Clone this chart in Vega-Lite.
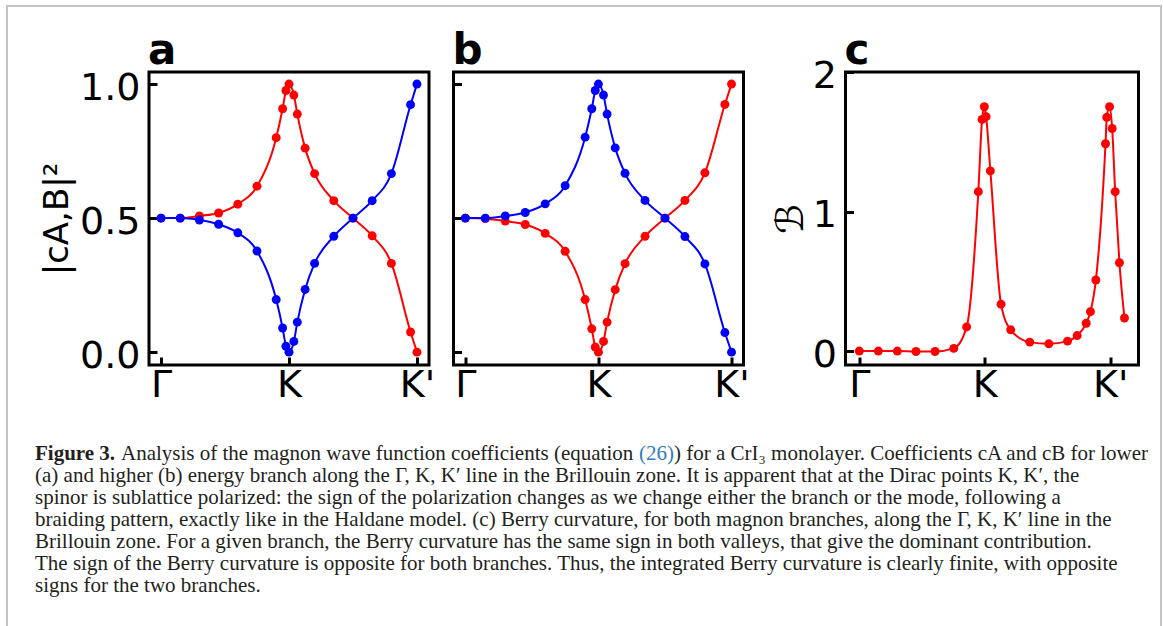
{
  "$schema": "https://vega.github.io/schema/vega-lite/v6.json",
  "padding": {"left": 4, "top": 3, "right": 0, "bottom": 0},
  "background": "white",
  "bounds": "flush",
  "spacing": 24.5,
  "config": {
    "view": {"stroke": "black", "strokeWidth": 3},
    "axis": {
      "domain": false, "grid": false, "labelOverlap": false, "labelFlush": false,
      "labelFont": "DejaVu Sans", "labelFontSize": 38, "labelColor": "black", "labelFontWeight": "normal",
      "tickColor": "black", "tickWidth": 3, "tickSize": -8,
      "titleFont": "DejaVu Sans", "titleColor": "black", "titleFontWeight": "normal"
    },
    "axisX": {"labelPadding": 9, "title": null},
    "axisY": {"labelPadding": 17, "labelOffset": 4}
  },
  "datasets": {
    "coef": [
      {"branch": "lower", "coefficient": "A", "k": 0, "w": 0.5},
      {"branch": "lower", "coefficient": "A", "k": 0.15, "w": 0.5},
      {"branch": "lower", "coefficient": "A", "k": 0.3, "w": 0.508},
      {"branch": "lower", "coefficient": "A", "k": 0.45, "w": 0.519},
      {"branch": "lower", "coefficient": "A", "k": 0.6, "w": 0.552},
      {"branch": "lower", "coefficient": "A", "k": 0.75, "w": 0.619},
      {"branch": "lower", "coefficient": "A", "k": 0.9, "w": 0.8},
      {"branch": "lower", "coefficient": "A", "k": 0.95, "w": 0.908},
      {"branch": "lower", "coefficient": "A", "k": 0.976, "w": 0.976},
      {"branch": "lower", "coefficient": "A", "k": 1.0, "w": 1.0},
      {"branch": "lower", "coefficient": "A", "k": 1.038, "w": 0.959},
      {"branch": "lower", "coefficient": "A", "k": 1.065, "w": 0.888},
      {"branch": "lower", "coefficient": "A", "k": 1.126, "w": 0.761},
      {"branch": "lower", "coefficient": "A", "k": 1.2, "w": 0.666},
      {"branch": "lower", "coefficient": "A", "k": 1.35, "w": 0.565},
      {"branch": "lower", "coefficient": "A", "k": 1.5, "w": 0.5},
      {"branch": "lower", "coefficient": "A", "k": 1.65, "w": 0.434},
      {"branch": "lower", "coefficient": "A", "k": 1.8, "w": 0.331},
      {"branch": "lower", "coefficient": "A", "k": 1.95, "w": 0.075},
      {"branch": "lower", "coefficient": "A", "k": 2.0, "w": 0.0},
      {"branch": "lower", "coefficient": "B", "k": 0, "w": 0.5},
      {"branch": "lower", "coefficient": "B", "k": 0.15, "w": 0.5},
      {"branch": "lower", "coefficient": "B", "k": 0.3, "w": 0.493},
      {"branch": "lower", "coefficient": "B", "k": 0.45, "w": 0.477},
      {"branch": "lower", "coefficient": "B", "k": 0.6, "w": 0.445},
      {"branch": "lower", "coefficient": "B", "k": 0.75, "w": 0.377},
      {"branch": "lower", "coefficient": "B", "k": 0.9, "w": 0.196},
      {"branch": "lower", "coefficient": "B", "k": 0.95, "w": 0.09},
      {"branch": "lower", "coefficient": "B", "k": 0.976, "w": 0.022},
      {"branch": "lower", "coefficient": "B", "k": 1.0, "w": 0.0},
      {"branch": "lower", "coefficient": "B", "k": 1.038, "w": 0.04},
      {"branch": "lower", "coefficient": "B", "k": 1.065, "w": 0.112},
      {"branch": "lower", "coefficient": "B", "k": 1.126, "w": 0.234},
      {"branch": "lower", "coefficient": "B", "k": 1.2, "w": 0.331},
      {"branch": "lower", "coefficient": "B", "k": 1.35, "w": 0.432},
      {"branch": "lower", "coefficient": "B", "k": 1.5, "w": 0.5},
      {"branch": "lower", "coefficient": "B", "k": 1.65, "w": 0.565},
      {"branch": "lower", "coefficient": "B", "k": 1.8, "w": 0.666},
      {"branch": "lower", "coefficient": "B", "k": 1.95, "w": 0.923},
      {"branch": "lower", "coefficient": "B", "k": 2.0, "w": 1.0},
      {"branch": "higher", "coefficient": "A", "k": 0, "w": 0.5},
      {"branch": "higher", "coefficient": "A", "k": 0.15, "w": 0.498},
      {"branch": "higher", "coefficient": "A", "k": 0.3, "w": 0.489},
      {"branch": "higher", "coefficient": "A", "k": 0.45, "w": 0.476},
      {"branch": "higher", "coefficient": "A", "k": 0.6, "w": 0.443},
      {"branch": "higher", "coefficient": "A", "k": 0.75, "w": 0.376},
      {"branch": "higher", "coefficient": "A", "k": 0.9, "w": 0.196},
      {"branch": "higher", "coefficient": "A", "k": 0.95, "w": 0.087},
      {"branch": "higher", "coefficient": "A", "k": 0.976, "w": 0.019},
      {"branch": "higher", "coefficient": "A", "k": 1.0, "w": 0.0},
      {"branch": "higher", "coefficient": "A", "k": 1.038, "w": 0.04},
      {"branch": "higher", "coefficient": "A", "k": 1.065, "w": 0.112},
      {"branch": "higher", "coefficient": "A", "k": 1.126, "w": 0.233},
      {"branch": "higher", "coefficient": "A", "k": 1.2, "w": 0.33},
      {"branch": "higher", "coefficient": "A", "k": 1.35, "w": 0.432},
      {"branch": "higher", "coefficient": "A", "k": 1.5, "w": 0.5},
      {"branch": "higher", "coefficient": "A", "k": 1.65, "w": 0.566},
      {"branch": "higher", "coefficient": "A", "k": 1.8, "w": 0.669},
      {"branch": "higher", "coefficient": "A", "k": 1.95, "w": 0.924},
      {"branch": "higher", "coefficient": "A", "k": 2.0, "w": 1.0},
      {"branch": "higher", "coefficient": "B", "k": 0, "w": 0.5},
      {"branch": "higher", "coefficient": "B", "k": 0.15, "w": 0.5},
      {"branch": "higher", "coefficient": "B", "k": 0.3, "w": 0.508},
      {"branch": "higher", "coefficient": "B", "k": 0.45, "w": 0.521},
      {"branch": "higher", "coefficient": "B", "k": 0.6, "w": 0.553},
      {"branch": "higher", "coefficient": "B", "k": 0.75, "w": 0.621},
      {"branch": "higher", "coefficient": "B", "k": 0.9, "w": 0.802},
      {"branch": "higher", "coefficient": "B", "k": 0.95, "w": 0.908},
      {"branch": "higher", "coefficient": "B", "k": 0.976, "w": 0.976},
      {"branch": "higher", "coefficient": "B", "k": 1.0, "w": 1.0},
      {"branch": "higher", "coefficient": "B", "k": 1.038, "w": 0.959},
      {"branch": "higher", "coefficient": "B", "k": 1.065, "w": 0.888},
      {"branch": "higher", "coefficient": "B", "k": 1.126, "w": 0.762},
      {"branch": "higher", "coefficient": "B", "k": 1.2, "w": 0.667},
      {"branch": "higher", "coefficient": "B", "k": 1.35, "w": 0.566},
      {"branch": "higher", "coefficient": "B", "k": 1.5, "w": 0.5},
      {"branch": "higher", "coefficient": "B", "k": 1.65, "w": 0.431},
      {"branch": "higher", "coefficient": "B", "k": 1.8, "w": 0.329},
      {"branch": "higher", "coefficient": "B", "k": 1.95, "w": 0.073},
      {"branch": "higher", "coefficient": "B", "k": 2.0, "w": 0.0}
    ],
    "berry": [
      {"k": 0, "curv": 0},
      {"k": 0.152, "curv": 0},
      {"k": 0.303, "curv": 0},
      {"k": 0.452, "curv": -0.003},
      {"k": 0.604, "curv": -0.003},
      {"k": 0.753, "curv": 0.019},
      {"k": 0.856, "curv": 0.173},
      {"k": 0.949, "curv": 1.142},
      {"k": 0.979, "curv": 1.66},
      {"k": 0.997, "curv": 1.751},
      {"k": 1.011, "curv": 1.68},
      {"k": 1.045, "curv": 1.291},
      {"k": 1.13, "curv": 0.336},
      {"k": 1.207, "curv": 0.152},
      {"k": 1.359, "curv": 0.064},
      {"k": 1.511, "curv": 0.052},
      {"k": 1.66, "curv": 0.071},
      {"k": 1.737, "curv": 0.111},
      {"k": 1.809, "curv": 0.199},
      {"k": 1.843, "curv": 0.282},
      {"k": 1.886, "curv": 0.509},
      {"k": 1.963, "curv": 1.486},
      {"k": 1.973, "curv": 1.675},
      {"k": 1.995, "curv": 1.751},
      {"k": 2.016, "curv": 1.595},
      {"k": 2.04, "curv": 1.142},
      {"k": 2.074, "curv": 0.633},
      {"k": 2.114, "curv": 0.237}
    ],
    "caption": [
      {"line": 1, "part": "lead", "text": "Figure 3."},
      {"line": 1, "part": "head", "text": "Analysis of the magnon wave function coefficients (equation"},
      {"line": 1, "part": "ref", "text": "(26)"},
      {"line": 1, "part": "tail", "text": ") for a CrI₃ monolayer. Coefficients cA and cB for lower"},
      {"line": 2, "part": "body", "text": "(a) and higher (b) energy branch along the Γ, K, K′ line in the Brillouin zone. It is apparent that at the Dirac points K, K′, the"},
      {"line": 3, "part": "body", "text": "spinor is sublattice polarized: the sign of the polarization changes as we change either the branch or the mode, following a"},
      {"line": 4, "part": "body", "text": "braiding pattern, exactly like in the Haldane model. (c) Berry curvature, for both magnon branches, along the Γ, K, K′ line in the"},
      {"line": 5, "part": "body", "text": "Brillouin zone. For a given branch, the Berry curvature has the same sign in both valleys, that give the dominant contribution."},
      {"line": 6, "part": "body", "text": "The sign of the Berry curvature is opposite for both branches. Thus, the integrated Berry curvature is clearly finite, with opposite"},
      {"line": 7, "part": "body", "text": "signs for the two branches."}
    ]
  },
  "hconcat": [
    {
      "width": 280, "height": 293,
      "resolve": {"scale": {"x": "independent", "y": "independent"}},
      "layer": [
        {
          "data": {"name": "coef"},
          "transform": [{"filter": "datum.branch === 'lower'"}],
          "encoding": {
            "x": {"field": "k", "type": "quantitative", "scale": {"domain": [-0.094, 2.094], "nice": false, "zero": false},
                  "axis": {"values": [0, 1, 2], "labelExpr": "datum.value < 0.5 ? 'Γ' : datum.value < 1.5 ? 'K' : \"K'\""}},
            "y": {"field": "w", "type": "quantitative", "scale": {"domain": [-0.048, 1.045], "nice": false, "zero": false},
                  "axis": {"values": [0, 0.5, 1], "format": ".1f", "title": "|cA,B|²", "titleFontSize": 34, "titlePadding": 5}},
            "color": {"field": "coefficient", "type": "nominal", "scale": {"domain": ["A", "B"], "range": ["#ff0000", "#0000ff"]}, "legend": null}
          },
          "layer": [
            {"mark": {"type": "line", "interpolate": "monotone", "strokeWidth": 2}},
            {"mark": {"type": "point", "filled": true, "size": 80, "opacity": 1, "strokeWidth": 0}}
          ]
        },
        {
          "layer": [
            {
              "data": {"values": [{"frame": "figure"}]},
              "mark": {"type": "rect", "fill": "transparent", "stroke": "#c4c4c4", "strokeWidth": 2},
              "encoding": {
                "x": {"datum": -0.14032, "type": "quantitative", "scale": {"domain": [0, 0.27668], "nice": false, "zero": false}, "axis": null},
                "x2": {"datum": 1},
                "y": {"datum": -19.636, "type": "quantitative", "scale": {"domain": [-16.636, -3.318], "nice": false, "zero": false, "reverse": true}, "axis": null},
                "y2": {"datum": 11}
              }
            },
            {
              "data": {"values": [{"panel": "a"}]},
              "mark": {"type": "text", "align": "left", "baseline": "alphabetic", "font": "DejaVu Sans", "fontSize": 42, "fontWeight": "bold", "color": "black", "dx": -1},
              "encoding": {
                "x": {"datum": 0, "type": "quantitative", "scale": {"domain": [0, 0.27668], "nice": false, "zero": false}, "axis": null},
                "y": {"datum": -17.0, "type": "quantitative", "scale": {"domain": [-16.636, -3.318], "nice": false, "zero": false, "reverse": true}, "axis": null},
                "text": {"field": "panel"}
              }
            },
            {
              "data": {"name": "caption"},
              "transform": [{"filter": "datum.part === 'lead'"}],
              "mark": {"type": "text", "align": "left", "baseline": "alphabetic", "font": "Liberation Serif", "fontSize": 21, "fontWeight": "bold", "color": "#231f20", "dx": -114},
              "encoding": {
                "x": {"datum": 0, "type": "quantitative", "scale": {"domain": [0, 0.27668], "nice": false, "zero": false}, "axis": null},
                "y": {"field": "line", "type": "quantitative", "scale": {"domain": [-16.636, -3.318], "nice": false, "zero": false, "reverse": true}, "axis": null},
                "text": {"field": "text"}
              }
            },
            {
              "data": {"name": "caption"},
              "transform": [{"filter": "datum.part === 'head'"}],
              "mark": {"type": "text", "align": "left", "baseline": "alphabetic", "font": "Liberation Serif", "fontSize": 21, "color": "#231f20", "dx": -28},
              "encoding": {
                "x": {"datum": 0, "type": "quantitative", "scale": {"domain": [0, 0.27668], "nice": false, "zero": false}, "axis": null},
                "y": {"field": "line", "type": "quantitative", "scale": {"domain": [-16.636, -3.318], "nice": false, "zero": false, "reverse": true}, "axis": null},
                "text": {"field": "text"}
              }
            },
            {
              "data": {"name": "caption"},
              "transform": [{"filter": "datum.part === 'ref'"}],
              "mark": {"type": "text", "align": "left", "baseline": "alphabetic", "font": "Liberation Serif", "fontSize": 21, "color": "#2f7bc1", "dx": 490},
              "encoding": {
                "x": {"datum": 0, "type": "quantitative", "scale": {"domain": [0, 0.27668], "nice": false, "zero": false}, "axis": null},
                "y": {"field": "line", "type": "quantitative", "scale": {"domain": [-16.636, -3.318], "nice": false, "zero": false, "reverse": true}, "axis": null},
                "text": {"field": "text"}
              }
            },
            {
              "data": {"name": "caption"},
              "transform": [{"filter": "datum.part === 'tail'"}],
              "mark": {"type": "text", "align": "left", "baseline": "alphabetic", "font": "Liberation Serif", "fontSize": 21, "color": "#231f20", "dx": 525},
              "encoding": {
                "x": {"datum": 0, "type": "quantitative", "scale": {"domain": [0, 0.27668], "nice": false, "zero": false}, "axis": null},
                "y": {"field": "line", "type": "quantitative", "scale": {"domain": [-16.636, -3.318], "nice": false, "zero": false, "reverse": true}, "axis": null},
                "text": {"field": "text"}
              }
            },
            {
              "data": {"name": "caption"},
              "transform": [{"filter": "datum.line > 1"}],
              "mark": {"type": "text", "align": "left", "baseline": "alphabetic", "font": "Liberation Serif", "fontSize": 21, "color": "#231f20", "dx": -114},
              "encoding": {
                "x": {"datum": 0, "type": "quantitative", "scale": {"domain": [0, 0.27668], "nice": false, "zero": false}, "axis": null},
                "y": {"field": "line", "type": "quantitative", "scale": {"domain": [-16.636, -3.318], "nice": false, "zero": false, "reverse": true}, "axis": null},
                "text": {"field": "text"}
              }
            }
          ]
        }
      ]
    },
    {
      "width": 290, "height": 293,
      "resolve": {"scale": {"x": "independent", "y": "independent"}},
      "layer": [
        {
          "data": {"name": "coef"},
          "transform": [{"filter": "datum.branch === 'higher'"}],
          "encoding": {
            "x": {"field": "k", "type": "quantitative", "scale": {"domain": [-0.089, 2.09], "nice": false, "zero": false},
                  "axis": {"values": [0, 1, 2], "labelExpr": "datum.value < 0.5 ? 'Γ' : datum.value < 1.5 ? 'K' : \"K'\""}},
            "y": {"field": "w", "type": "quantitative", "scale": {"domain": [-0.048, 1.045], "nice": false, "zero": false},
                  "axis": {"values": [0, 0.5, 1], "labels": false, "title": null}},
            "color": {"field": "coefficient", "type": "nominal", "scale": {"domain": ["A", "B"], "range": ["#ff0000", "#0000ff"]}, "legend": null}
          },
          "layer": [
            {"mark": {"type": "line", "interpolate": "monotone", "strokeWidth": 2}},
            {"mark": {"type": "point", "filled": true, "size": 80, "opacity": 1, "strokeWidth": 0}}
          ]
        },
        {
          "data": {"values": [{"panel": "b"}]},
          "mark": {"type": "text", "align": "left", "baseline": "alphabetic", "font": "DejaVu Sans", "fontSize": 42, "fontWeight": "bold", "color": "black", "dx": -1, "dy": -8},
          "encoding": {
            "x": {"datum": -0.089, "type": "quantitative", "scale": {"domain": [-0.089, 2.09], "nice": false, "zero": false}, "axis": null},
            "y": {"datum": 1.045, "type": "quantitative", "scale": {"domain": [-0.048, 1.045], "nice": false, "zero": false}, "axis": null},
            "text": {"field": "panel"}
          }
        }
      ]
    },
    {
      "width": 52.3, "height": 293,
      "view": {"stroke": null},
      "data": {"values": []},
      "mark": "point"
    },
    {
      "width": 293, "height": 293,
      "resolve": {"scale": {"x": "independent", "y": "independent"}},
      "layer": [
        {
          "data": {"name": "berry"},
          "encoding": {
            "x": {"field": "k", "type": "quantitative", "scale": {"domain": [-0.11, 2.226], "nice": false, "zero": false},
                  "axis": {"values": [0, 1, 2], "labelExpr": "datum.value < 0.5 ? 'Γ' : datum.value < 1.5 ? 'K' : \"K'\""}},
            "y": {"field": "curv", "type": "quantitative", "scale": {"domain": [-0.1, 2.0], "nice": false, "zero": false},
                  "axis": {"values": [0, 1, 2], "labelExpr": "datum.value < 0.5 ? '0' : datum.value < 1.5 ? '1' : '2'", "title": "ℬ", "titleFontSize": 38, "titlePadding": 2}}
          },
          "layer": [
            {"mark": {"type": "line", "interpolate": "monotone", "strokeWidth": 2, "color": "#ff0000"}},
            {"mark": {"type": "point", "filled": true, "size": 80, "opacity": 1, "strokeWidth": 0, "color": "#ff0000"}}
          ]
        },
        {
          "data": {"values": [{"panel": "c"}]},
          "mark": {"type": "text", "align": "left", "baseline": "alphabetic", "font": "DejaVu Sans", "fontSize": 42, "fontWeight": "bold", "color": "black", "dx": -1, "dy": -8},
          "encoding": {
            "x": {"datum": -0.11, "type": "quantitative", "scale": {"domain": [-0.11, 2.226], "nice": false, "zero": false}, "axis": null},
            "y": {"datum": 2.0, "type": "quantitative", "scale": {"domain": [-0.1, 2.0], "nice": false, "zero": false}, "axis": null},
            "text": {"field": "panel"}
          }
        }
      ]
    }
  ]
}
